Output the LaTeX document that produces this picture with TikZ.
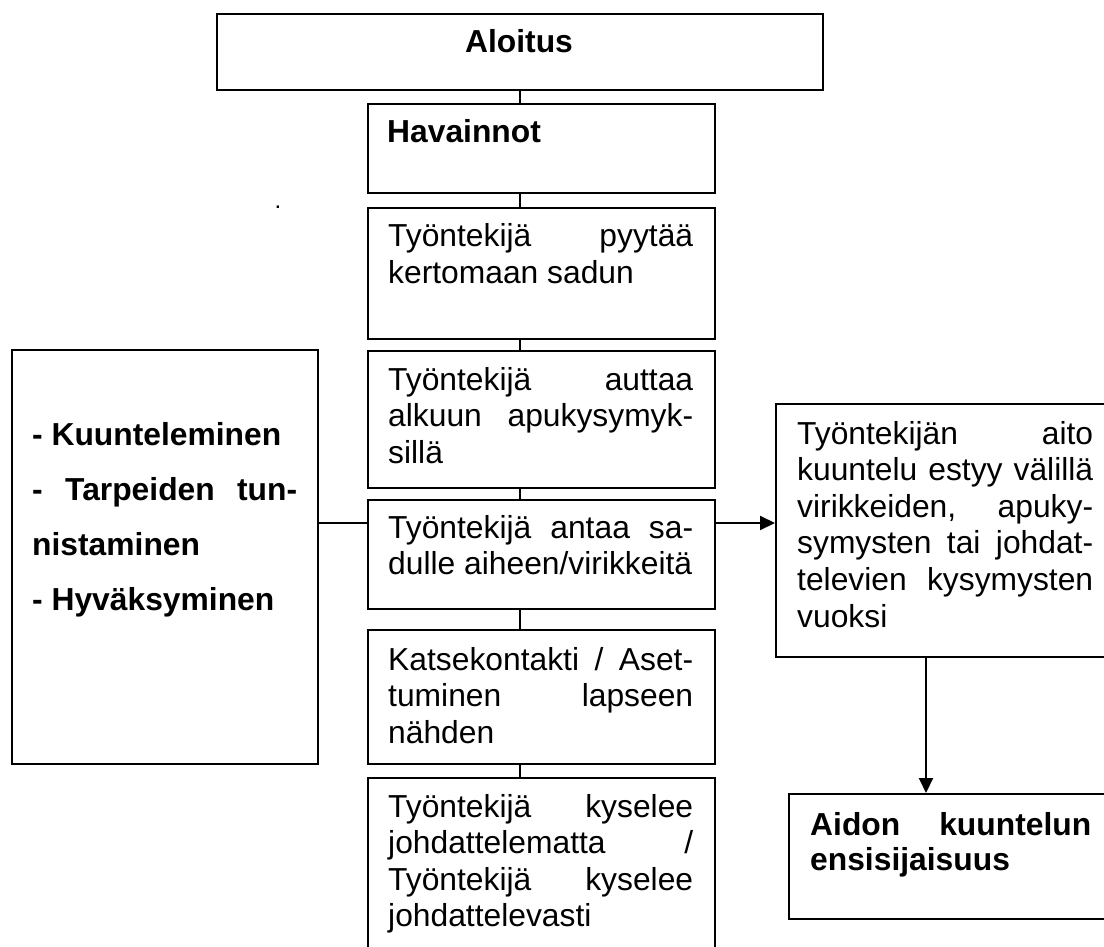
\documentclass[tikz,border=0pt]{standalone}
\usepackage{fontspec}
\setmainfont{Liberation Sans}
\usetikzlibrary{arrows.meta}
% a fully justified line inside a parbox
\newcommand{\jl}[1]{\makebox[\linewidth][s]{#1}\par}
\begin{document}
\begin{tikzpicture}[x=1pt,y=-1pt,
  box/.style={draw, line width=1.8pt, inner sep=0pt, anchor=north west},
  lbl/.style={anchor=base west, inner sep=0pt, font=\fontsize{31.8}{36.6}\selectfont},
  blbl/.style={lbl, font=\bfseries\fontsize{31.8}{35}\selectfont},
  link/.style={line width=1.3pt},
  flow/.style={line width=2pt, -{Triangle[length=15pt,width=14pt]}}]
\useasboundingbox (0,0) rectangle (1104,947);

% middle column
\node[box, minimum width=606pt, minimum height=76pt]  (aloitus) at (216,13)  {};
\node[box, minimum width=347pt, minimum height=89pt]  (hav)     at (367,103) {};
\node[box, minimum width=347pt, minimum height=131pt] (b3)      at (367,207) {};
\node[box, minimum width=347pt, minimum height=137pt] (b4)      at (367,350) {};
\node[box, minimum width=347pt, minimum height=109pt] (b5)      at (367,499) {};
\node[box, minimum width=347pt, minimum height=134pt] (b6)      at (367,629) {};
\node[box, minimum width=347pt, minimum height=190pt] (b7)      at (367,777) {};

% side boxes
\node[box, minimum width=306pt, minimum height=414pt] (left)  at (11,349)  {};
\node[box, minimum width=335pt, minimum height=253pt] (right) at (775,403) {};
\node[box, minimum width=322pt, minimum height=125pt] (prio)  at (788,793) {};

% texts
\node[anchor=base, inner sep=0pt, font=\bfseries\fontsize{31.8}{36.6}\selectfont] (taloitus) at (519,53) {Aloitus};
\node[blbl] (thav) at (387,143) {Havainnot};
\node[lbl] (tb3) at (388,247) {\parbox[t]{305pt}{\jl{Työntekijä pyytää}kertomaan sadun}};
\node[lbl] (tb4) at (388,390) {\parbox[t]{305pt}{\jl{Työntekijä auttaa}\jl{alkuun apukysymyk-}sillä}};
\node[lbl] (tb5) at (388,538) {\parbox[t]{305pt}{\jl{Työntekijä antaa sa-}dulle aiheen/virikkeitä}};
\node[lbl] (tb6) at (388,670) {\parbox[t]{305pt}{\jl{Katsekontakti / Aset-}\jl{tuminen lapseen}nähden}};
\node[lbl] (tb7) at (388,817) {\parbox[t]{305pt}{\jl{Työntekijä kyselee}\jl{johdattelematta /}\jl{Työntekijä kyselee}johdattelevasti}};
\node[lbl, font=\bfseries\fontsize{31.8}{55}\selectfont] (tleft) at (32,445)
  {\parbox[t]{265pt}{- Kuunteleminen\par\jl{- Tarpeiden tun-}nistaminen\par - Hyväksyminen}};
\node[lbl] (tright) at (797,444) {\parbox[t]{296pt}{\jl{Työntekijän aito}\jl{kuuntelu estyy välillä}\jl{virikkeiden, apuky-}\jl{symysten tai johdat-}\jl{televien kysymysten}vuoksi}};
\node[blbl] (tprio) at (810,835) {\parbox[t]{281pt}{\jl{Aidon kuuntelun}ensisijaisuus}};
\node[anchor=base, inner sep=0pt, font=\fontsize{24}{24}\selectfont] (stray) at (278,209) {.};

% connectors
\coordinate (spine) at (520,0);
\coordinate (midrow) at (0,523);
\coordinate (drop) at (926,0);
\draw[link] (aloitus.south -| spine) -- (hav.north -| spine);
\draw[link] (hav.south -| spine) -- (b3.north -| spine);
\draw[link] (b3.south -| spine) -- (b4.north -| spine);
\draw[link] (b4.south -| spine) -- (b5.north -| spine);
\draw[link] (b5.south -| spine) -- (b6.north -| spine);
\draw[link] (b6.south -| spine) -- (b7.north -| spine);
\draw[link] (left.east |- midrow) -- (b5.west |- midrow);
\draw[flow] (b5.east |- midrow) -- (right.west |- midrow);
\draw[flow] (right.south -| drop) -- (prio.north -| drop);
\end{tikzpicture}
\end{document}
